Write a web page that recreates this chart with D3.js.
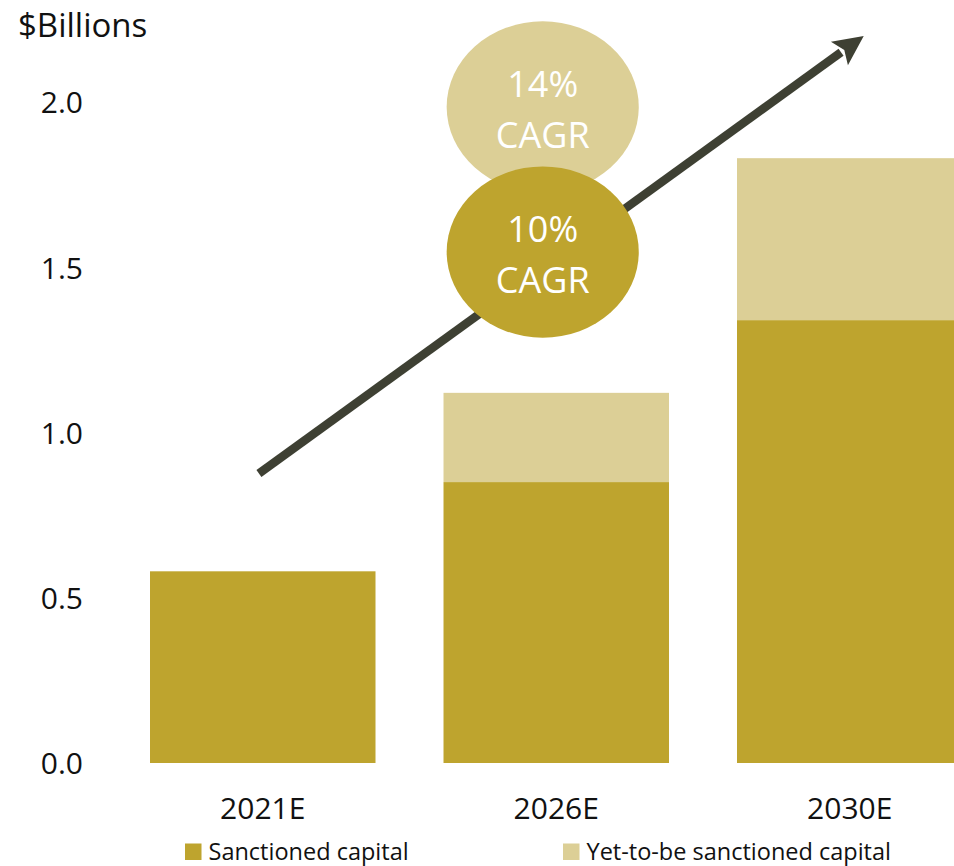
<!DOCTYPE html>
<html>
<head>
<meta charset="utf-8">
<script src="https://cdn.jsdelivr.net/npm/d3@7/dist/d3.min.js"></script>
<style>
  html, body { margin: 0; padding: 0; background: #fff; }
  svg { display: block; font-family: "Open Sans", sans-serif; }
</style>
</head>
<body>
<svg id="chart" width="954" height="866"></svg>
<script>
// ---- data ----
const categories = ["2021E", "2026E", "2030E"];
const sanctioned = [0.58, 0.85, 1.34];
const yetToBe    = [0.00, 0.27, 0.49];
const yTicks     = [0.0, 0.5, 1.0, 1.5, 2.0];
const seriesNames = ["Sanctioned capital", "Yet-to-be sanctioned capital"];
const cagrLabels = [["14%", "CAGR"], ["10%", "CAGR"]];
// annotation anchors (category, fraction of band, value)
const cagrAnchors = [{cat: "2026E", frac: 0.44, value: 1.985}, {cat: "2026E", frac: 0.44, value: 1.546}];
const arrowFrom = {cat: "2021E", frac: 0.483, value: 0.876};
const arrowTo   = {cat: "2030E", frac: 0.562, value: 2.2};

const colors = {sanctioned: "#bea42e", yet: "#dccf96", arrow: "#3e4033", text: "#111"};

const svg = d3.select("#chart");

const x = d3.scaleBand().domain(categories).range([82, 1030.5]).paddingInner(0.2317).paddingOuter(0.2317);
const y = d3.scaleLinear().domain([0, 2]).range([763, 102]);
const bw = x.bandwidth();

// stacked data
const stackData = categories.map((c, i) => ({cat: c, sanctioned: sanctioned[i], yet: yetToBe[i]}));
const stack = d3.stack().keys(["sanctioned", "yet"])(stackData);

svg.append("g").selectAll("g").data(stack).join("g")
  .attr("fill", d => d.key === "sanctioned" ? colors.sanctioned : colors.yet)
  .selectAll("rect").data(d => d.filter(p => p[1] - p[0] > 0)).join("rect")
  .attr("x", d => x(d.data.cat))
  .attr("width", bw)
  .attr("y", d => y(d[1]))
  .attr("height", d => y(d[0]) - y(d[1]));

// y axis labels
const yAxis = svg.append("g").attr("transform", "translate(83,0)")
  .call(d3.axisLeft(y).tickValues(yTicks).tickFormat(d3.format(".1f")).tickSize(0).tickPadding(0));
yAxis.select(".domain").remove();
yAxis.selectAll("text").attr("font-size", 30).attr("font-family", "Open Sans").attr("fill", colors.text).attr("dy", "0.36em");

// x axis labels
const xAxis = svg.append("g").attr("transform", "translate(0,763)")
  .call(d3.axisBottom(x).tickSize(0).tickPadding(35));
xAxis.select(".domain").remove();
xAxis.selectAll("text").attr("font-size", 30).attr("font-family", "Open Sans").attr("fill", colors.text);

// y title
svg.append("text").attr("x", 18).attr("y", 37).attr("font-size", 33).attr("fill", colors.text).text("$Billions");

// arrow
const ax0 = x(arrowFrom.cat) + arrowFrom.frac * bw, ay0 = y(arrowFrom.value);
const ax1 = x(arrowTo.cat) + arrowTo.frac * bw, ay1 = y(arrowTo.value);
const len = Math.hypot(ax1 - ax0, ay1 - ay0);
const ux = (ax1 - ax0) / len, uy = (ay1 - ay0) / len;
const headLen = 30, headHalf = 14.5;
const bx = ax1 - ux * headLen, by = ay1 - uy * headLen;
svg.append("line")
  .attr("x1", ax0).attr("y1", ay0).attr("x2", bx + ux * 2).attr("y2", by + uy * 2)
  .attr("stroke", colors.arrow).attr("stroke-width", 8.5);
svg.append("path")
  .attr("d", `M${ax1},${ay1} L${bx - uy * headHalf},${by + ux * headHalf} L${bx + ux*6},${by + uy*6} L${bx + uy * headHalf},${by - ux * headHalf} Z`)
  .attr("fill", colors.arrow);

// CAGR ellipses
const rx = 0.426 * bw, ry = y(0) - y(0.259);
const ellColors = [colors.yet, colors.sanctioned];
cagrAnchors.forEach((a, i) => {
  const cx = x(a.cat) + a.frac * bw, cy = y(a.value);
  svg.append("ellipse").attr("cx", cx).attr("cy", cy).attr("rx", rx).attr("ry", ry).attr("fill", ellColors[i]);
  const t = svg.append("text").attr("text-anchor", "middle").attr("fill", "#fff").attr("font-size", 36);
  t.append("tspan").attr("x", cx).attr("y", cy - 10).text(cagrLabels[i][0]);
  t.append("tspan").attr("x", cx).attr("y", cy + 41).text(cagrLabels[i][1]);
});

// legend
const legend = [
  {name: seriesNames[0], color: colors.sanctioned, x: 185},
  {name: seriesNames[1], color: colors.yet, x: 563}
];
const lg = svg.append("g").selectAll("g").data(legend).join("g");
lg.append("rect").attr("x", d => d.x).attr("y", 843.5).attr("width", 16.5).attr("height", 16.5).attr("fill", d => d.color);
lg.append("text").attr("x", d => d.x + 23.5).attr("y", 859.5).attr("font-size", 23.5).attr("fill", colors.text).text(d => d.name);
</script>
</body>
</html>
